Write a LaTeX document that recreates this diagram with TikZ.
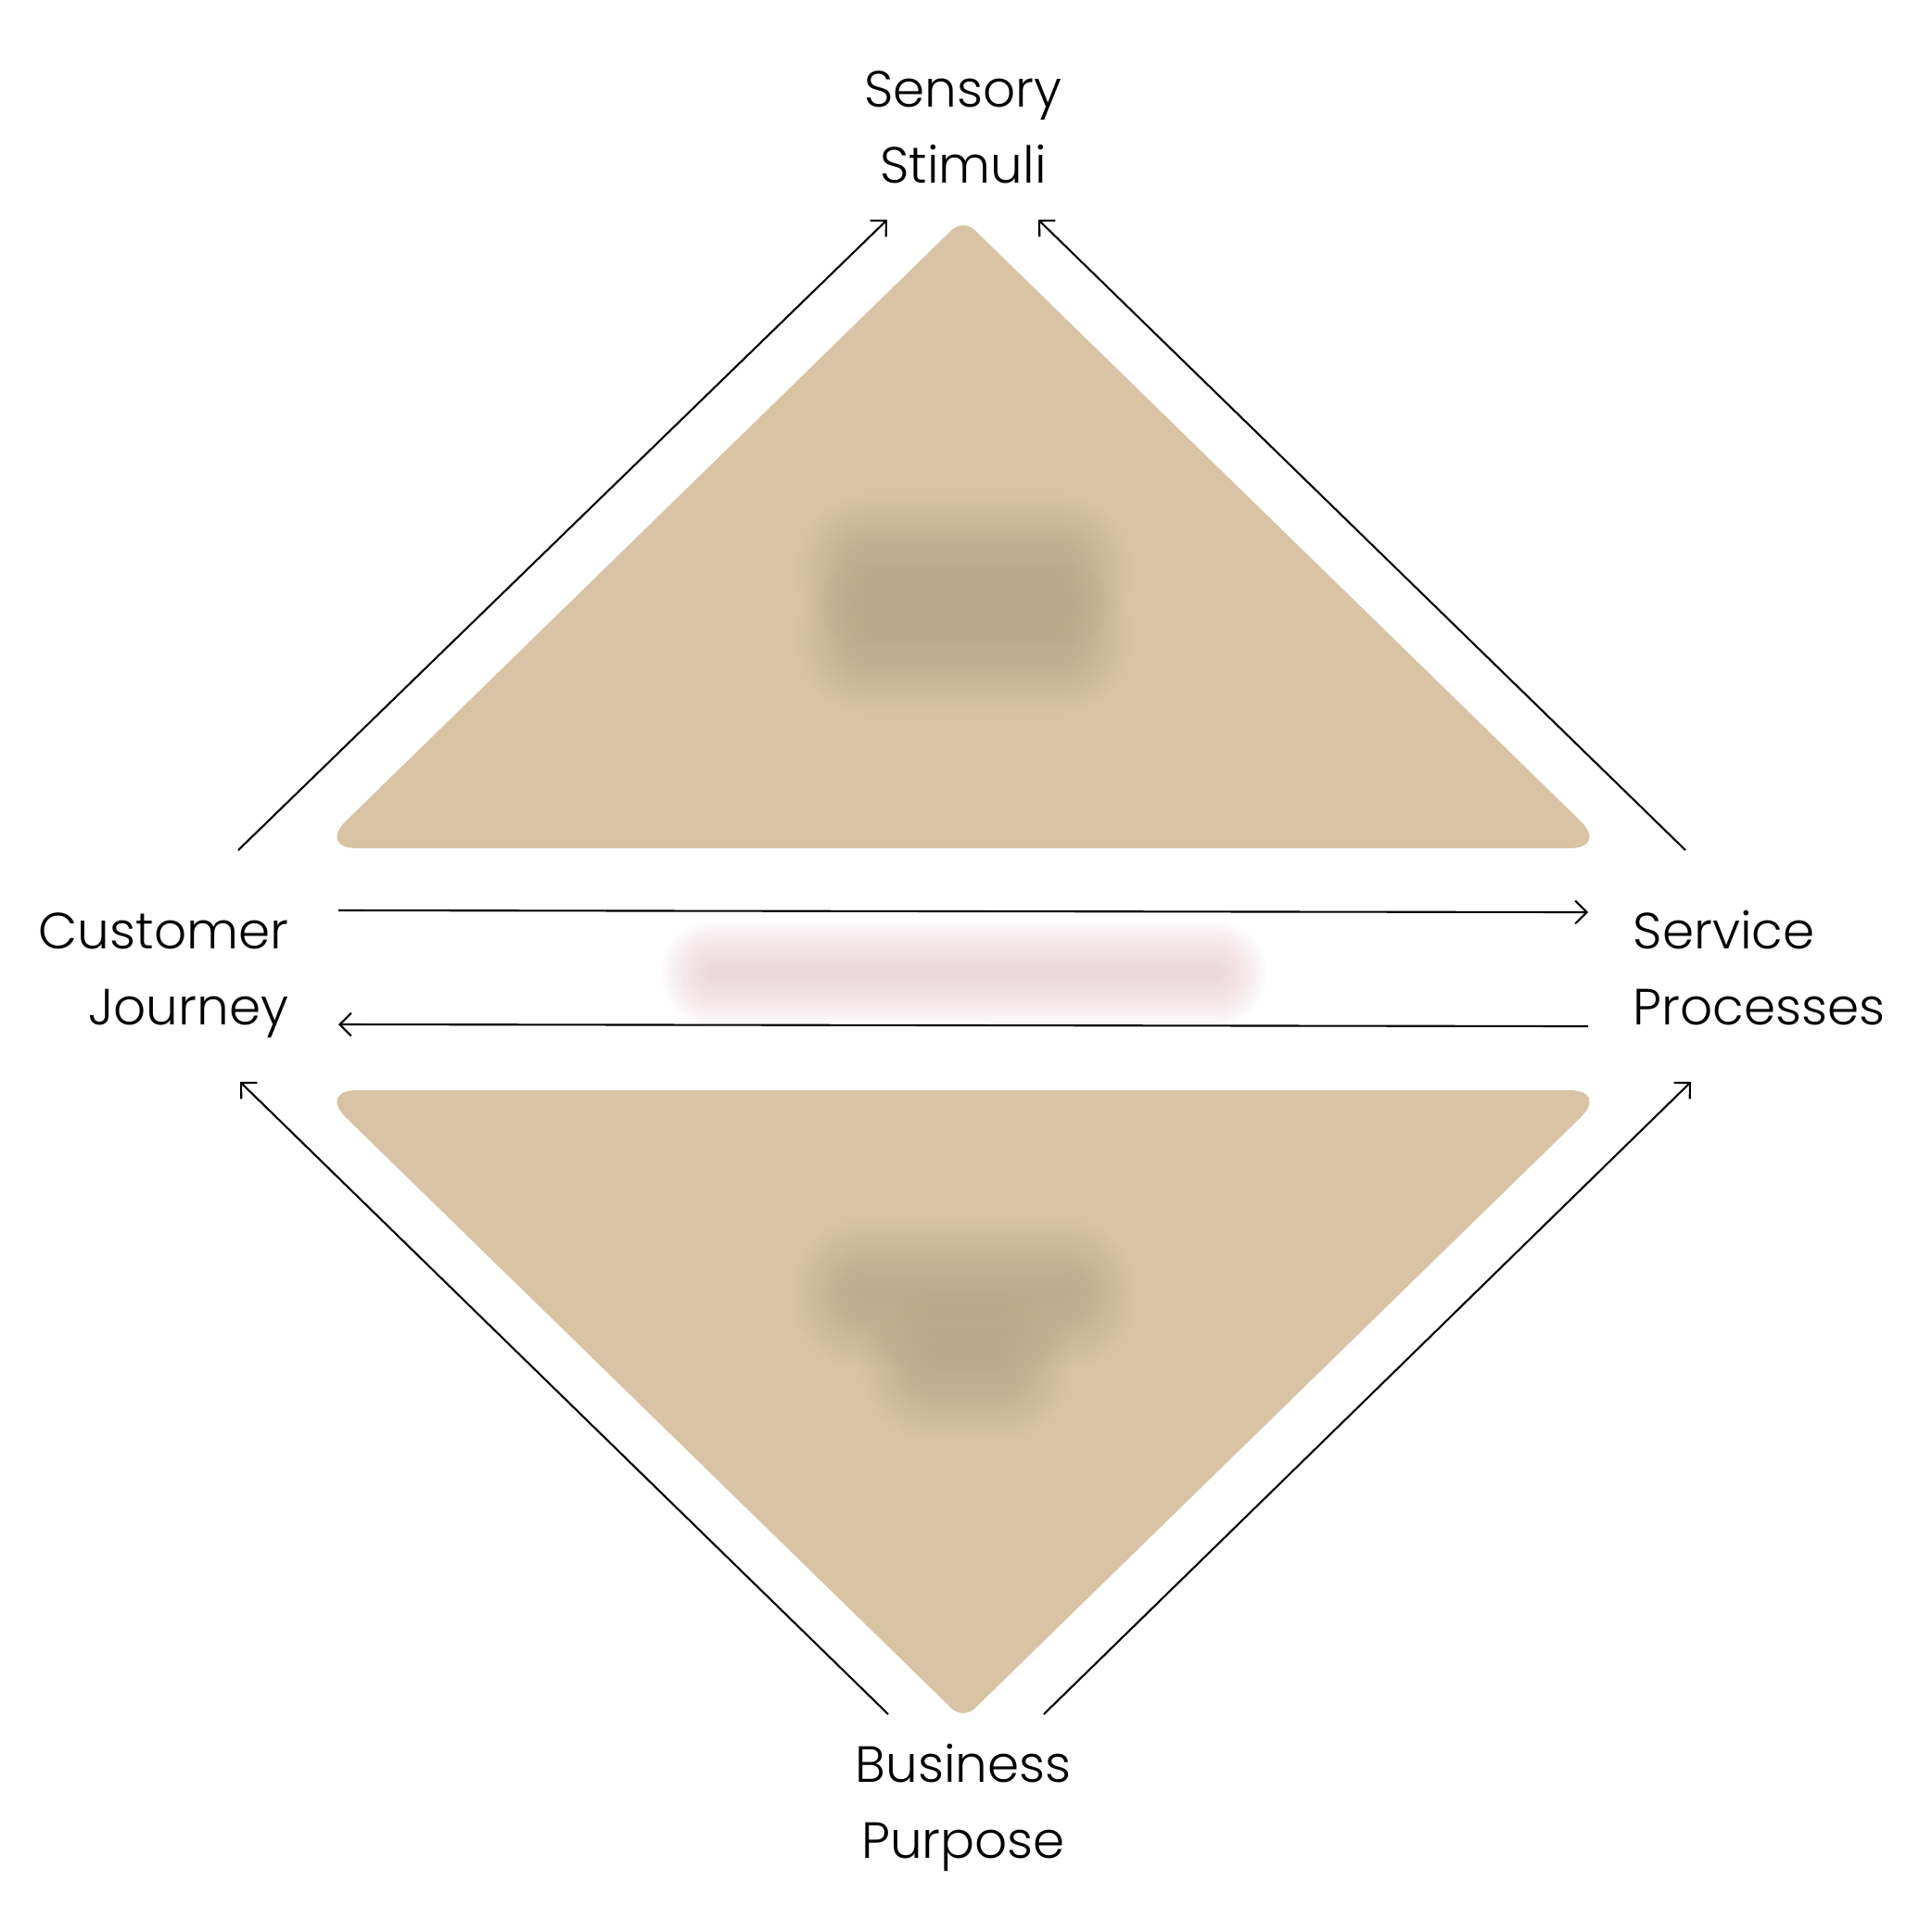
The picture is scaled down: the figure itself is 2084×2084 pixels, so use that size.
\documentclass[tikz,border=0pt]{standalone}
\usepackage{fontspec}
\setmainfont{Poppins Light}
\usetikzlibrary{arrows.meta}
\definecolor{sand}{HTML}{D9C3A5}
\definecolor{blobdark}{HTML}{B0A086}
\definecolor{blobpink}{HTML}{E8C6CC}
\tikzset{
  lbl/.style={font=\fontsize{15.6}{23.3}\selectfont, inner sep=0pt, text=black},
  conn/.style={line width=0.6pt, -{Straight Barb[length=3.5pt,width=7pt]}},
  blurbar/.style={line cap=round, opacity=0.055},
}
\begin{document}
\begin{tikzpicture}[x=0.01cm, y=-0.01cm]
\useasboundingbox[fill=white] (0,0) rectangle (2084,2084);

% triangles (base corners rounder than apex)
\path[fill=sand] (1039,915) [rounded corners=0.42cm] -- (343,915)
  [rounded corners=0.175cm] -- (1039,236) [rounded corners=0.42cm] -- (1735,915) -- cycle;
\path[fill=sand] (1039,1176) [rounded corners=0.42cm] -- (1735,1176)
  [rounded corners=0.175cm] -- (1039,1855) [rounded corners=0.42cm] -- (343,1176) -- cycle;

% blurred text blobs
\foreach \w in {46,43,40,37,34,31,28,25,22,19,16,13,10,7,4}{
  \draw[blurbar, blobdark, line width=\w pt] (940,615) -- (1140,615);
  \draw[blurbar, blobdark, line width=\w pt] (940,688) -- (1140,688);
  \draw[blurbar, blobdark, line width=\w pt] (935,1396) -- (1145,1396);
  \draw[blurbar, blobdark, line width=\w pt] (1010,1472) -- (1075,1472);
}
\foreach \w in {32,30,28,26,24,22,20,18,16,14,12,10,8,6,4}{
  \draw[line cap=round, opacity=0.06, blobpink, line width=\w pt] (770,1050) -- (1310,1050);
}

% labels (anchor at baseline of second line)
\node[lbl, anchor=base, align=center] (sens) at (1039,197) {Sensory\\Stimuli};
\node[lbl, anchor=base, align=center] (bus) at (1039,2004) {Business\\Purpose};
\node[lbl, anchor=base east, align=right] (cust) at (312,1105) {Customer\\Journey};
\node[lbl, anchor=base west, align=left] (serv) at (1761,1105) {Service\\Processes};

% connector end points
\coordinate (cjTop) at (257,917);
\coordinate (ssL) at (957,237);
\coordinate (spTop) at (1818,917);
\coordinate (ssR) at (1120,237);
\coordinate (bpL) at (958,1849);
\coordinate (cjBot) at (259,1167);
\coordinate (bpR) at (1126,1849);
\coordinate (spBot) at (1824,1167);
\coordinate (hA1) at (365,982);
\coordinate (hA2) at (1713,984);
\coordinate (hB1) at (1713,1107);
\coordinate (hB2) at (365,1105);

\draw[conn] (cjTop) -- (ssL);
\draw[conn] (spTop) -- (ssR);
\draw[conn] (bpL) -- (cjBot);
\draw[conn] (bpR) -- (spBot);
\draw[conn] (hA1) -- (hA2);
\draw[conn] (hB1) -- (hB2);
\end{tikzpicture}
\end{document}
